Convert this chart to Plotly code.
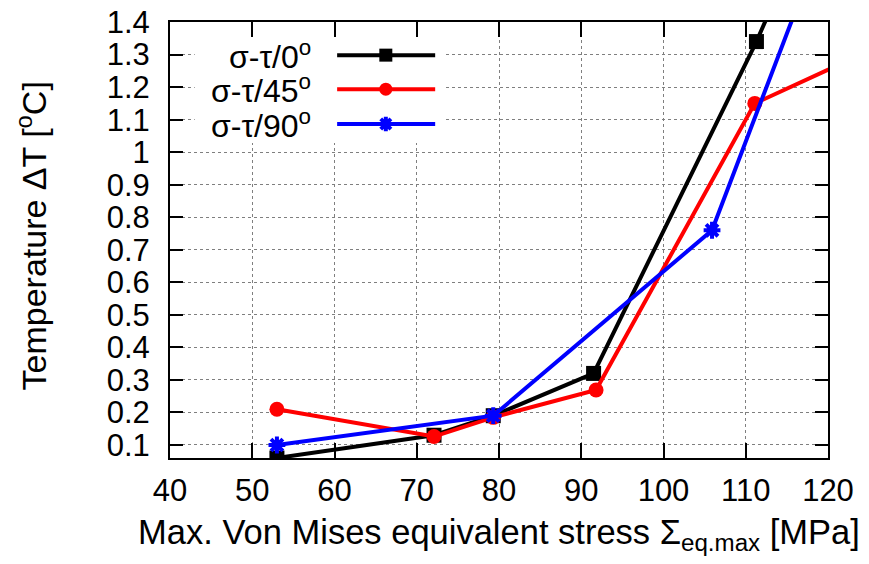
import plotly.graph_objects as go

# Data (last point of each series lies outside the visible range; lines run off the plot)
x_0 = [53.0, 72.1, 79.3, 91.5, 111.3, 121.0]
y_0 = [0.06, 0.13, 0.19, 0.32, 1.34, 1.90]
x_45 = [53.0, 72.1, 79.3, 91.8, 111.1, 130.0]
y_45 = [0.21, 0.126, 0.185, 0.269, 1.15, 1.37]
x_90 = [53.0, 79.3, 105.9, 120.5]
y_90 = [0.10, 0.19, 0.76, 1.73]

names = ["σ-τ/0<sup>o</sup>", "σ-τ/45<sup>o</sup>", "σ-τ/90<sup>o</sup>"]
colors = ["black", "#ff0000", "#0000ff"]
symbols = ["square", "circle", "asterisk-open"]

x_ticks = [40, 50, 60, 70, 80, 90, 100, 110, 120]
y_ticks = [0.1, 0.2, 0.3, 0.4, 0.5, 0.6, 0.7, 0.8, 0.9, 1.0, 1.1, 1.2, 1.3, 1.4]
y_tick_text = ["0.1", "0.2", "0.3", "0.4", "0.5", "0.6", "0.7", "0.8", "0.9", "1", "1.1", "1.2", "1.3", "1.4"]

FONT = "Liberation Sans, Arial, sans-serif"
FS_TICK = 31
FS_TITLE = 34
FS_LEG = 32

fig = go.Figure()

series = [(x_0, y_0), (x_45, y_45), (x_90, y_90)]
for (xs, ys), c, s in zip(series, colors, symbols):
    marker = dict(symbol=s, size=15, color=c)
    if s == "asterisk-open":
        marker = dict(symbol=s, size=14, color=c, line=dict(color=c, width=4))
    fig.add_trace(go.Scatter(x=xs, y=ys, mode="lines+markers",
                             line=dict(color=c, width=4), marker=marker,
                             showlegend=False))

# Legend samples drawn on a hidden overlay axis (0..1 of plot area)
leg_rows = [0.924, 0.846, 0.766]
for yy, c, s, nm in zip(leg_rows, colors, symbols, names):
    fig.add_trace(go.Scatter(x=[0.254, 0.403], y=[yy, yy], mode="lines",
                             line=dict(color=c, width=4), xaxis="x2", yaxis="y2",
                             showlegend=False, hoverinfo="skip"))
    marker = dict(symbol=s, size=13, color=c)
    if s == "asterisk-open":
        marker = dict(symbol=s, size=12, color=c, line=dict(color=c, width=4))
    fig.add_trace(go.Scatter(x=[0.328], y=[yy], mode="markers", marker=marker,
                             xaxis="x2", yaxis="y2", showlegend=False, hoverinfo="skip"))
    fig.add_annotation(x=0.217, y=yy, xref="paper", yref="paper", text=nm, showarrow=False,
                       xanchor="right", yanchor="middle",
                       font=dict(family=FONT, size=FS_LEG, color="black"))

# y-axis title placed as a rotated annotation
fig.add_annotation(x=-0.21, y=0.51, xref="paper", yref="paper",
                   text="Temperature ΔT [<sup>o</sup>C]", textangle=-90, showarrow=False,
                   xanchor="center", yanchor="middle",
                   font=dict(family=FONT, size=FS_TITLE, color="black"))

# white legend background hiding the grid
fig.add_shape(type="rect", xref="x", yref="y", x0=43.0, x1=73.4, y0=1.028, y1=1.36,
              fillcolor="white", line=dict(width=0), layer="between")

axis_common = dict(showline=True, linecolor="black", linewidth=2, mirror="ticks",
                   ticks="inside", tickcolor="black", tickwidth=2, automargin=False,
                   ticklabeloverflow="allow",
                   showgrid=True, gridcolor="#7f7f7f", gridwidth=1, griddash="dot",
                   zeroline=False, tickfont=dict(family=FONT, size=FS_TICK, color="black"))

fig.update_layout(
    width=853, height=548,
    margin=dict(l=162, r=33, t=14, b=98, autoexpand=False),
    paper_bgcolor="white", plot_bgcolor="white",
    xaxis=dict(range=[40, 120], tickvals=x_ticks, ticklen=15, ticklabelstandoff=4,
               title=dict(text="Max. Von Mises equivalent stress Σ<sub>eq.max</sub> [MPa]",
                          font=dict(family=FONT, size=34.5, color="black"), standoff=13),
               **axis_common),
    yaxis=dict(range=[0.06, 1.4002], tickvals=y_ticks, ticktext=y_tick_text, ticklen=13,
               ticklabelstandoff=12,
               **axis_common),
    xaxis2=dict(range=[0, 1], overlaying="x", visible=False),
    yaxis2=dict(range=[0, 1], overlaying="y", visible=False),
)

fig.write_html("out.html")
